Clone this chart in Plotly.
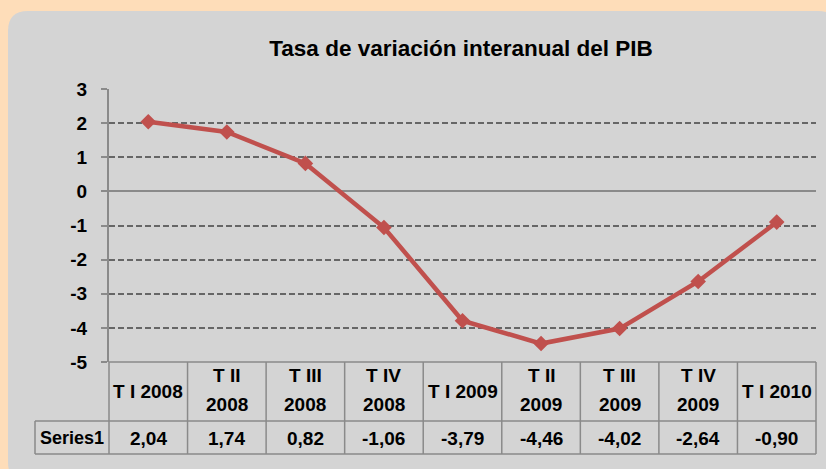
import plotly.graph_objects as go

# ---- data ----
categories = ["T I 2008", "T II\n2008", "T III\n2008", "T IV\n2008", "T I 2009",
              "T II\n2009", "T III\n2009", "T IV\n2009", "T I 2010"]
series_name = "Series1"
values = [2.04, 1.74, 0.82, -1.06, -3.79, -4.46, -4.02, -2.64, -0.90]
y_ticks = [-5, -4, -3, -2, -1, 0, 1, 2, 3]
title_text = "Tasa de variación interanual del PIB"

# ---- layout geometry (pixels) ----
W, H = 826, 469
PL, PR, PT, PB = 109, 816, 89, 362          # plot area
pw, ph = PR - PL, PB - PT


def px(p):
    return (p - PL) / pw


def py(q):
    return (PB - q) / ph


FONT = "Liberation Sans, Arial, sans-serif"
GRID = "#666666"
BORDER = "#8a8a8a"
LINE = "#C0504D"

n = len(categories)
xs = list(range(n))

fig = go.Figure()
fig.add_trace(go.Scatter(
    x=xs, y=values, mode="lines+markers",
    line=dict(color=LINE, width=4.5),
    marker=dict(symbol="diamond", size=12, color=LINE),
    showlegend=False, hoverinfo="skip", cliponaxis=False,
))

shapes = []
# rounded grey panel
x0, x1, y0, y1, r = 8, 838, 11, 482, 20
path = (f"M {px(x0 + r)} {py(y0)} L {px(x1 - r)} {py(y0)} "
        f"Q {px(x1)} {py(y0)} {px(x1)} {py(y0 + r)} L {px(x1)} {py(y1 - r)} "
        f"Q {px(x1)} {py(y1)} {px(x1 - r)} {py(y1)} L {px(x0 + r)} {py(y1)} "
        f"Q {px(x0)} {py(y1)} {px(x0)} {py(y1 - r)} L {px(x0)} {py(y0 + r)} "
        f"Q {px(x0)} {py(y0)} {px(x0 + r)} {py(y0)} Z")
shapes.append(dict(type="path", path=path, xref="paper", yref="paper",
                   fillcolor="#D4D4D4", line=dict(width=0), layer="below"))

# data table grid
row_mid = 421
row_bot = 454
lab_left = 35
bl = dict(color=BORDER, width=1.5)
shapes.append(dict(type="line", xref="paper", yref="paper", x0=0, x1=1, y0=0, y1=0, line=bl))
shapes.append(dict(type="line", xref="paper", yref="paper", x0=px(lab_left), x1=1,
                   y0=py(row_mid), y1=py(row_mid), line=bl))
shapes.append(dict(type="line", xref="paper", yref="paper", x0=px(lab_left), x1=1,
                   y0=py(row_bot), y1=py(row_bot), line=bl))
shapes.append(dict(type="line", xref="paper", yref="paper", x0=px(lab_left), x1=px(lab_left),
                   y0=py(row_mid), y1=py(row_bot), line=bl))
for i in range(n + 1):
    xp = i / n
    shapes.append(dict(type="line", xref="paper", yref="paper", x0=xp, x1=xp,
                       y0=0, y1=py(row_bot), line=bl))

annotations = []
tfont = dict(family=FONT, size=19, color="black", weight="bold")
sfont = dict(family=FONT, size=18, color="black", weight="bold")
for i, lab in enumerate(categories):
    parts = lab.split("\n")
    if len(parts) == 1:
        annotations.append(dict(x=i, xref="x", y=py(391), yref="paper", text=parts[0],
                                showarrow=False, font=tfont, xanchor="center", yanchor="middle"))
    else:
        for part, yy in zip(parts, [375, 404]):
            annotations.append(dict(x=i, xref="x", y=py(yy), yref="paper", text=part,
                                    showarrow=False, font=tfont, xanchor="center",
                                    yanchor="middle"))
    annotations.append(dict(x=i, xref="x", y=py(438), yref="paper",
                            text=f"{values[i]:.2f}".replace(".", ","),
                            showarrow=False, font=tfont, xanchor="center", yanchor="middle"))
annotations.append(dict(x=px((lab_left + PL) / 2), xref="paper", y=py(438), yref="paper",
                        text=series_name, showarrow=False, font=sfont,
                        xanchor="center", yanchor="middle"))

fig.update_layout(
    width=W, height=H,
    margin=dict(l=PL, r=W - PR, t=PT, b=H - PB, pad=0),
    paper_bgcolor="#FEDDB9",
    plot_bgcolor="rgba(0,0,0,0)",
    title=dict(text=title_text, x=461 / W, y=1 - 48 / H, xref="container", yref="container",
               xanchor="center", yanchor="middle",
               font=dict(family=FONT, size=22.5, color="black", weight="bold")),
    xaxis=dict(range=[-0.5, n - 0.5], showgrid=False, zeroline=False,
               showticklabels=False, showline=False, ticks=""),
    yaxis=dict(range=[y_ticks[0], y_ticks[-1]], tickmode="array", tickvals=y_ticks,
               ticktext=[str(t) for t in y_ticks],
               showgrid=True, gridcolor=GRID, griddash="6px,3px", gridwidth=2,
               zeroline=True, zerolinecolor=BORDER, zerolinewidth=2,
               showline=True, linecolor=BORDER, linewidth=2,
               ticks="outside", ticklen=6, tickcolor=BORDER, tickwidth=2,
               ticklabelstandoff=10,
               tickfont=dict(family=FONT, size=19, color="black", weight="bold")),
    shapes=shapes,
    annotations=annotations,
)

fig.write_html("out.html", config={"displayModeBar": False},
               post_script="document.body.style.margin='0';")
